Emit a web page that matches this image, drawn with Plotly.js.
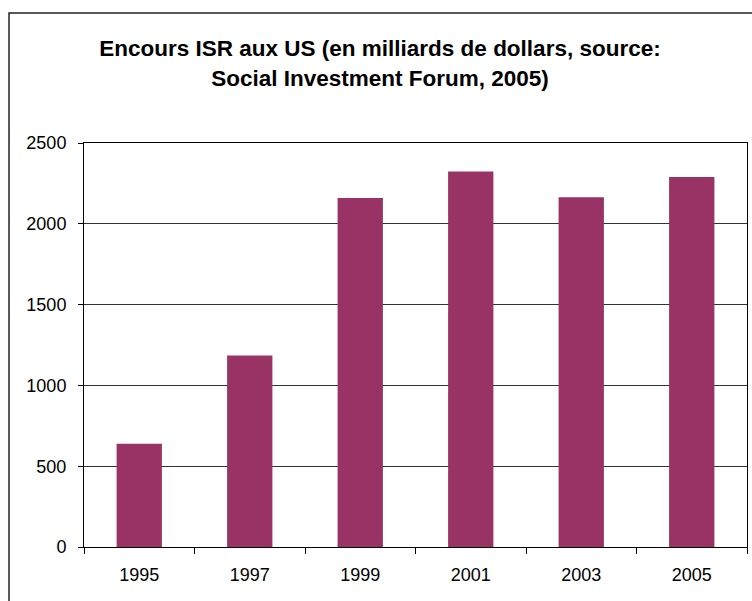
<!DOCTYPE html>
<html>
<head>
<meta charset="utf-8">
<script src="https://cdn.plot.ly/plotly-3.0.1.min.js"></script>
<style>html,body{margin:0;padding:0;background:#fff;}#chart{width:752px;height:601px;}</style>
</head>
<body>
<div id="chart"></div>
<script>
const years = ["1995", "1997", "1999", "2001", "2003", "2005"];
const encours = [639, 1185, 2159, 2323, 2164, 2290];
const yTicks = [0, 500, 1000, 1500, 2000, 2500];
const titleText = "Encours ISR aux US (en milliards de dollars, source:<br>Social Investment Forum, 2005)";

const trace = {
  type: "bar",
  x: years,
  y: encours,
  marker: {color: "#993366", line: {width: 0}},
  hoverinfo: "x+y"
};

const layout = {
  width: 752,
  height: 601,
  margin: {l: 84, r: 5, t: 143, b: 54},
  paper_bgcolor: "#ffffff",
  plot_bgcolor: "#ffffff",
  bargap: 0.59,
  showlegend: false,
  font: {family: "Liberation Sans, Arial, sans-serif", size: 18, color: "#000"},
  title: {
    text: titleText,
    font: {family: "Liberation Sans, Arial, sans-serif", size: 22.5, color: "#000", weight: "bold"},
    x: 0.5053, xref: "container", xanchor: "center",
    y: 0.906, yref: "container", yanchor: "middle"
  },
  xaxis: {
    type: "category",
    range: [-0.5, 5.5],
    showline: true, linecolor: "#000", linewidth: 1, mirror: true,
    ticks: "outside", ticklen: 6, tickcolor: "#000", tickwidth: 1,
    tickson: "boundaries",
    showgrid: false,
    ticklabelstandoff: 11,
    tickfont: {size: 18, color: "#000"}
  },
  yaxis: {
    range: [0, 2500],
    tickvals: yTicks,
    ticktext: yTicks.map(String),
    showline: true, linecolor: "#000", linewidth: 1, mirror: true,
    ticks: "outside", ticklen: 5, tickcolor: "#000", tickwidth: 1,
    showgrid: true, gridcolor: "#333333", gridwidth: 1,
    zeroline: false,
    ticklabelstandoff: 8,
    tickfont: {size: 18, color: "#000"}
  },
  shapes: [{
    type: "rect", xref: "paper", yref: "paper",
    x0: -0.1131, x1: 1.05, y0: -0.3, y1: 1.3218,
    line: {color: "#222", width: 1.5},
    fillcolor: "rgba(0,0,0,0)",
    layer: "above"
  }]
};

Plotly.newPlot("chart", [trace], layout, {displayModeBar: false, staticPlot: true});
</script>
</body>
</html>
